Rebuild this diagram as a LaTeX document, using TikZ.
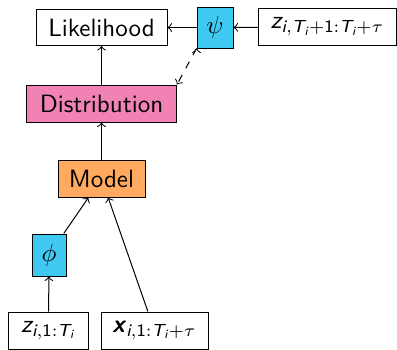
\documentclass[tikz,border=0pt]{standalone}
\usepackage{amsmath, amssymb}
\usetikzlibrary{positioning}
\usetikzlibrary{arrows}

% sans serif letters in math, as on slides
\newcommand{\vz}{\textit{z}}
\newcommand{\vx}{\textbf{\textit{x}}}
\newcommand{\vT}{\textit{T}}
\newcommand{\vi}{\textit{i}}
\newcommand{\one}{\text{1}}

\definecolor{boxblue}{RGB}{64,200,240}
\definecolor{boxpink}{RGB}{240,130,180}
\definecolor{boxorange}{RGB}{255,170,94}

\begin{document}
\sffamily
\begin{tikzpicture}[x=0.4pt,y=-0.4pt,
    blk/.style={draw, inner sep=0pt, minimum height=14.8pt}]
    \useasboundingbox (0,0) rectangle (397,349);

    \node[blk, minimum width=52.4pt, minimum height=14.4pt] (Lik) at (101.5,27.5) {Likelihood};
    \node[blk, fill=boxblue, minimum width=14.4pt, minimum height=16.4pt] (Psi) at (215,27.5) {$\psi$};
    \node[blk, minimum width=55.4pt] (zFut) at (327.5,27) {$\vz_{\vi,\vT_{\vi}+\one:\vT_{\vi}+\tau}$};

    \node[blk, fill=boxpink, minimum width=60pt] (Dist) at (101.5,103.5) {Distribution};
    \node[blk, fill=boxorange, minimum width=34.8pt] (Model) at (101.5,178.5) {Model};

    \node[blk, fill=boxblue, minimum width=13.6pt, minimum height=16.8pt] (Phi) at (49,255) {$\phi$};
    \node[blk, minimum width=31.6pt] (zPast) at (48.5,330.5) {$\vz_{\vi,\one:\vT_{\vi}}$};
    \node[blk, minimum width=42.8pt] (xAll) at (154.5,330.5) {$\vx_{\vi,\one:\vT_{\vi}+\tau}$};

    \draw[->] (Dist) edge (Lik);
    \draw[->] (Model) edge (Dist);
    \draw[->] (Phi) edge (Model);
    \draw[->] (xAll) edge (Model);
    \draw[->] (zPast) edge (Phi);
    \draw[->] (Psi) edge (Lik);
    \draw[->] (zFut) edge (Psi);
    \draw[->, dashed] (Psi.south west) edge (Dist.north east);
\end{tikzpicture}
\end{document}
